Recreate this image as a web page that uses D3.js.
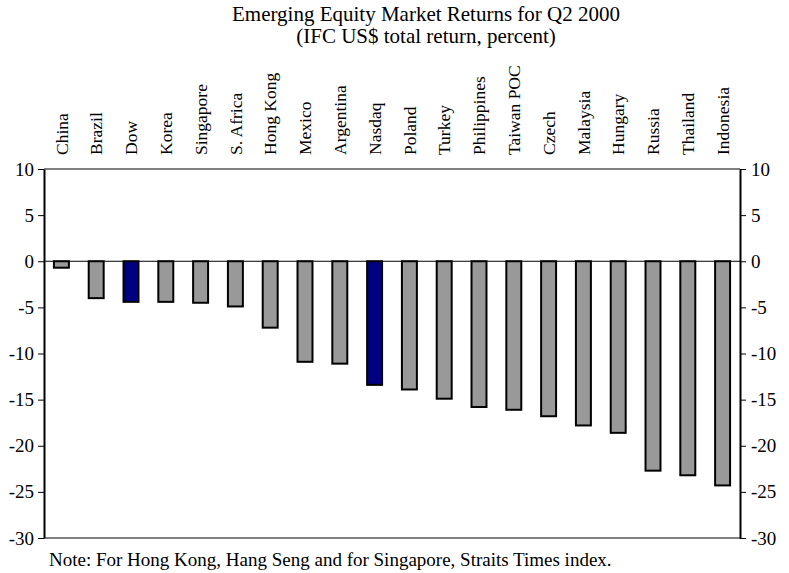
<!DOCTYPE html>
<html>
<head>
<meta charset="utf-8">
<script src="https://cdn.jsdelivr.net/npm/d3@7"></script>
<style>
  body { margin:0; background:#fff; }
  text { font-family: "Liberation Serif", "Times New Roman", serif; fill:#000; }
</style>
</head>
<body>
<div id="canvas"></div>
<script>
// data
var markets = ['China','Brazil','Dow','Korea','Singapore','S. Africa','Hong Kong','Mexico','Argentina','Nasdaq',
               'Poland','Turkey','Philippines','Taiwan POC','Czech','Malaysia','Hungary','Russia','Thailand','Indonesia'];
var returns = [-0.7,-4.0,-4.4,-4.4,-4.5,-4.9,-7.2,-10.9,-11.1,-13.4,
               -13.9,-14.9,-15.8,-16.1,-16.8,-17.8,-18.6,-22.7,-23.2,-24.3];
var usIndex = ['Dow','Nasdaq'];
var yTicks = [10,5,0,-5,-10,-15,-20,-25,-30];

var serif = '"Liberation Serif", "Times New Roman", serif';
var W = 789, H = 573;
var m = {t:169, r:49, b:35, l:44};
var w = W - m.l - m.r,
    h = H - m.t - m.b;

var svg = d3.select('#canvas').append('svg')
    .attr('width', W)
    .attr('height', H)
    .attr('font-family', serif);

svg.append('text').attr('x', 426).attr('y', 21)
    .attr('text-anchor','middle').style('font-size','21px')
    .text('Emerging Equity Market Returns for Q2 2000');
svg.append('text').attr('x', 426).attr('y', 43)
    .attr('text-anchor','middle').style('font-size','21px')
    .text('(IFC US$ total return, percent)');

var plot = svg.append('g')
    .attr('transform','translate(' + m.l + ',' + m.t + ')');

var scaleX = d3.scaleBand().domain(markets).range([0, w]).paddingInner(0.57).paddingOuter(0.285);
var scaleY = d3.scaleLinear().domain([-30, 10]).range([h, 0]);

// top and bottom frame lines (grey)
plot.append('line').attr('x1',0).attr('x2',w).attr('y1',0).attr('y2',0)
    .attr('stroke','#808080').attr('stroke-width',2);
plot.append('line').attr('x1',0).attr('x2',w).attr('y1',h).attr('y2',h)
    .attr('stroke','#808080').attr('stroke-width',2);

// bars
plot.selectAll('.bar').data(markets).enter().append('rect')
    .attr('class','bar')
    .attr('x', function(d){ return scaleX(d); })
    .attr('width', scaleX.bandwidth())
    .attr('y', scaleY(0))
    .attr('height', function(d,i){ return scaleY(returns[i]) - scaleY(0); })
    .attr('fill', function(d){ return usIndex.indexOf(d) >= 0 ? '#000080' : '#999999'; })
    .attr('stroke','#000')
    .attr('stroke-width',2);

// zero line
plot.append('line').attr('x1',0).attr('x2',w).attr('y1',scaleY(0)).attr('y2',scaleY(0))
    .attr('stroke','#000').attr('stroke-width',1);

// category labels, vertical above plot
plot.selectAll('.cat').data(markets).enter().append('text')
    .attr('class','cat')
    .attr('transform', function(d){
        return 'translate(' + (scaleX(d) + scaleX.bandwidth()/2) + ',' + (-14) + ') rotate(-90)';
    })
    .attr('dy','0.35em')
    .style('font-size','17.5px')
    .text(function(d){ return d; });

var fmt = function(d){ return String(d); };
var axisL = d3.axisLeft(scaleY).tickValues(yTicks).tickFormat(fmt).tickSize(6).tickSizeOuter(0).tickPadding(4);
var axisR = d3.axisRight(scaleY).tickValues(yTicks).tickFormat(fmt).tickSize(6).tickSizeOuter(0).tickPadding(5);

var gl = plot.append('g').attr('class','axis').call(axisL);
var gr = plot.append('g').attr('class','axis').attr('transform','translate(' + w + ',0)').call(axisR);

[gl, gr].forEach(function(g){
    g.attr('font-family', serif).attr('font-size', 19);
    g.select('.domain').attr('stroke','#000').attr('stroke-width',2);
    g.selectAll('.tick line').attr('stroke','#000');
    g.selectAll('.tick text').attr('fill','#000');
});

svg.append('text').attr('x', 49).attr('y', 566)
    .style('font-size','19px')
    .text('Note: For Hong Kong, Hang Seng and for Singapore, Straits Times index.');
</script>
</body>
</html>
